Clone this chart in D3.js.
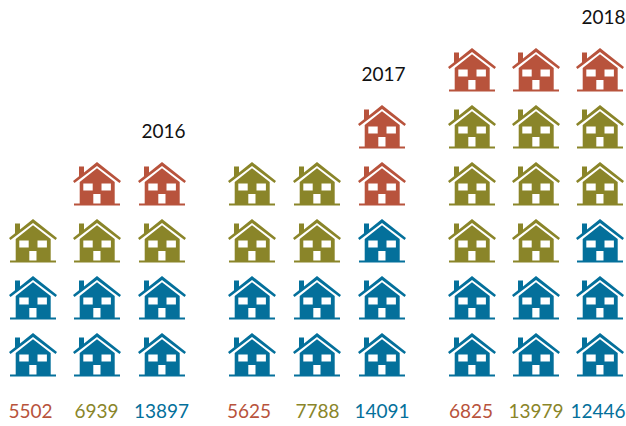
<!DOCTYPE html>
<html>
<head>
<meta charset="utf-8">
<script src="https://cdn.jsdelivr.net/npm/d3@7"></script>
<style>
  html, body { margin: 0; background: #fff; }
  text { font-family: Lato, "Open Sans", sans-serif; }
</style>
</head>
<body>
<div id="chart"></div>
<script>
const columns = ['2016a', '2016b', '2016c', '2017a', '2017b', '2017c', '2018a', '2018b', '2018c'];
const colValues = [5502, 6939, 13897, 5625, 7788, 14091, 6825, 13979, 12446];
const colGroups = ['red', 'olive', 'blue', 'red', 'olive', 'blue', 'red', 'olive', 'blue'];
const blueHouses = [2, 2, 2, 2, 2, 3, 2, 2, 3];
const oliveHouses = [1, 1, 1, 2, 2, 0, 3, 3, 2];
const redHouses = [0, 1, 1, 0, 0, 2, 1, 1, 1];
const yearLabels = ['2016', '2017', '2018'];
const yearRows = [3, 4, 5];

const w = 626;
const h = 426;
const colors = { red: '#B8533C', olive: '#8A8529', blue: '#04709B' };

// house drawn in a 48 x 44 box, windows and door cut out with evenodd
const house = [
  'M24 0 L48 19 L46.5 21 L24 4 L1.5 21 L0 19 L6 14.3 L6 4.5 L11 4.5 L11 10.4 Z',
  'M24 6.2 L41.7 20 L41.7 41.5 L6.7 41.5 L6.7 20 Z',
  'M10.3 21.5 H19.7 V28.5 H10.3 Z',
  'M28.5 21.5 H37.9 V28.5 H28.5 Z',
  'M20.3 32 H27.5 V41.5 H20.3 Z',
  'M1 41.5 H47 V43.5 H1 Z'
].join(' ');

const svg = d3.select('#chart').append('svg')
  .attr('width', w)
  .attr('height', h)
  .style('display', 'block');

// gaps between the three years are a bit wider, so x is an ordinal scale on a hand range
const x = d3.scaleOrdinal()
  .domain(columns)
  .range([33, 97, 162, 252, 317, 382, 472, 536, 600]);

// value labels do not sit exactly under their houses
const labelX = d3.scaleOrdinal()
  .domain(columns)
  .range([30.5, 96.5, 161.5, 249, 317.5, 382, 471, 536, 598]);

const yearX = d3.scaleOrdinal()
  .domain(yearLabels)
  .range([163.5, 383.5, 603.5]);

const y = d3.scaleLinear().domain([0, 5]).range([333, 48]);

const houses = [];
columns.forEach((c, i) => {
  const stack = [
    ...d3.range(blueHouses[i]).map(() => 'blue'),
    ...d3.range(oliveHouses[i]).map(() => 'olive'),
    ...d3.range(redHouses[i]).map(() => 'red')
  ];
  stack.forEach((color, row) => houses.push({ column: c, row, color }));
});

svg.selectAll('.house')
  .data(houses)
  .enter()
  .append('path')
    .attr('class', 'house')
    .attr('d', house)
    .attr('fill-rule', 'evenodd')
    .attr('fill', d => colors[d.color])
    .attr('transform', d => `translate(${x(d.column) - 24}, ${y(d.row)})`);

svg.selectAll('.value')
  .data(columns)
  .enter()
  .append('text')
    .attr('class', 'value')
    .attr('x', d => labelX(d))
    .attr('y', 418)
    .attr('text-anchor', 'middle')
    .attr('font-size', 19)
    .attr('fill', (d, i) => colors[colGroups[i]])
    .text((d, i) => colValues[i]);

// years sit above the top house of their last column
svg.selectAll('.year')
  .data(yearLabels)
  .enter()
  .append('text')
    .attr('class', 'year')
    .attr('x', d => yearX(d))
    .attr('y', (d, i) => y(yearRows[i]) - 24)
    .attr('text-anchor', 'middle')
    .attr('font-size', 19)
    .attr('fill', '#111')
    .text(d => d);
</script>
</body>
</html>
